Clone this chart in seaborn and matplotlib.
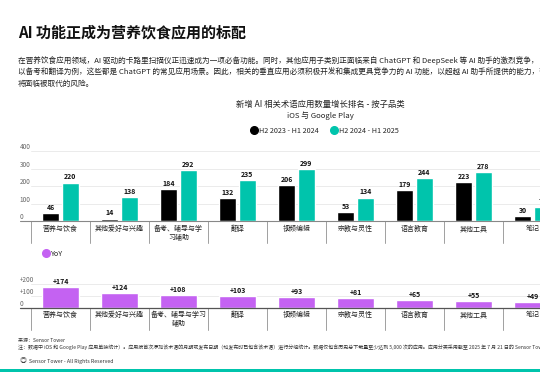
import matplotlib
matplotlib.use("Agg")
import matplotlib.pyplot as plt
import seaborn as sns
import pandas as pd
from matplotlib.lines import Line2D
from matplotlib.patches import Rectangle

sns.set_theme(style="white")
plt.rcParams['font.family'] = ['Noto Sans CJK SC', 'DejaVu Sans']

categories = ['营养与饮食', '其他爱好与兴趣', '备考、辅导与学习辅助', '翻译', '视频编辑',
              '宗教与灵性', '语言教育', '其他工具', '笔记']
top_labels = ['营养与饮食', '其他爱好与兴趣', '备考、辅导与学\n习辅助', '翻译', '视频编辑',
              '宗教与灵性', '语言教育', '其他工具', '笔记']
bottom_labels = ['营养与饮食', '其他爱好与兴趣', '备考、辅导与学习\n辅助', '翻译', '视频编辑',
                 '宗教与灵性', '语言教育', '其他工具', '笔记']
series_names = ['H2 2023 - H1 2024', 'H2 2024 - H1 2025']
h2_2023 = [46, 14, 184, 132, 206, 53, 179, 223, 30]
h2_2024 = [220, 138, 292, 235, 299, 134, 244, 278, 79]
yoy = [174, 124, 108, 103, 93, 81, 65, 55, 49]
top_ticks = [0, 100, 200, 300, 400]
bottom_ticks = [0, 100, 200]
bottom_tick_labels = ['0', '+100', '+200']

BLACK = '#000000'
TEAL = '#00c4ac'
PURPLE = '#c462f2'
GRID = '#ebebeb'
SEP = '#a0a0a0'

W, H = 540, 372
fig = plt.figure(figsize=(5.4, 3.72), dpi=100)
fig.patch.set_facecolor('white')

def fx(px):
    return px / W

def fy(py):
    return 1 - py / H

# ---- text header ----
fig.text(fx(18), fy(32), 'AI 功能正成为营养饮食应用的标配', fontsize=10.8, fontweight='bold',
         va='center', ha='left', color='#111111')
body = ['在营养饮食应用领域，AI 驱动的卡路里扫描仪正迅速成为一项必备功能。同时，其他应用子类别正面临来自 ChatGPT 和 DeepSeek 等 AI 助手的激烈竞争，',
        '以备考和翻译为例，这些都是 ChatGPT 的常见应用场景。因此，相关的垂直应用必须积极开发和集成更具竞争力的 AI 功能，以超越 AI 助手所提供的能力，否则',
        '将面临被取代的风险。']
for i, line in enumerate(body):
    fig.text(fx(18), fy(61 + i * 11.7), line, fontsize=5.5, va='center', ha='left', color='#222222')

fig.text(fx(320), fy(104), '新增 AI 相关术语应用数量增长排名 - 按子品类', fontsize=6, ha='center', va='center', color='#222222')
fig.text(fx(320), fy(116), 'iOS 与 Google Play', fontsize=5.6, ha='center', va='center', color='#222222')

# ---- top chart ----
ax_left, ax_right = 31, 562
ax1 = fig.add_axes([fx(ax_left), fy(221), (ax_right - ax_left) / W, 70 / H])
ax1.patch.set_alpha(0)
df_top = pd.DataFrame({
    'cat': categories * 2,
    'series': [series_names[0]] * len(categories) + [series_names[1]] * len(categories),
    'val': h2_2023 + h2_2024,
})
sns.barplot(data=df_top, x='cat', y='val', hue='series', order=categories, hue_order=series_names,
            palette=[BLACK, TEAL], width=0.66, gap=0.12, ax=ax1, legend=False, saturation=1)
for c in ax1.containers:
    ax1.bar_label(c, fontsize=5, fontweight='bold', padding=1.5, color='#111111')
ax1.set_xlim(-0.5, 8.5)
ax1.set_ylim(0, 400)
ax1.set_yticks(top_ticks)
ax1.set_yticklabels([str(t) for t in top_ticks])
for lab in ax1.get_yticklabels():
    lab.set_horizontalalignment('left')
    lab.set_verticalalignment('bottom')
ax1.tick_params(axis='y', length=0, pad=8, labelsize=4.6, labelcolor='#666666')
ax1.set_xticks([])
ax1.set_xlabel('')
ax1.set_ylabel('')
for s in ax1.spines.values():
    s.set_visible(False)
for t in top_ticks[1:]:
    ax1.axhline(t, color=GRID, lw=0.7, zorder=0)
ax1.axhline(0, xmin=-11 / (ax_right - ax_left), xmax=1, color='#888888', lw=0.8, clip_on=False, zorder=3)
for i in range(len(categories) + 1):
    ax1.plot([i - 0.5, i - 0.5], [0, -22 / 70 * 400], color=SEP, lw=0.7, clip_on=False)
for i, lab in enumerate(top_labels):
    ax1.text(i, -4 / 70 * 400, lab, fontsize=5, ha='center', va='top', color='#222222',
             linespacing=1.2, clip_on=False)

leg_handles = [Line2D([], [], marker='o', ls='', color=BLACK, markersize=5.5),
               Line2D([], [], marker='o', ls='', color=TEAL, markersize=5.5)]
fig.legend(leg_handles, series_names, loc='center', bbox_to_anchor=(fx(325), fy(131)), ncol=2,
           frameon=False, fontsize=5.2, handletextpad=0.2, columnspacing=1.6, handlelength=1.0)

# ---- bottom chart ----
ax2 = fig.add_axes([fx(ax_left), fy(308), (ax_right - ax_left) / W, 24 / H])
ax2.patch.set_alpha(0)
df_bot = pd.DataFrame({'cat': categories, 'val': yoy})
sns.barplot(data=df_bot, x='cat', y='val', order=categories, color=PURPLE, width=0.63, ax=ax2, saturation=1)
ax2.bar_label(ax2.containers[0], labels=[f'+{v}' for v in yoy], fontsize=5, fontweight='bold',
              padding=1.5, color='#111111')
ax2.set_xlim(-0.5, 8.5)
ax2.set_ylim(0, 200)
ax2.set_yticks(bottom_ticks)
ax2.set_yticklabels(bottom_tick_labels)
for lab in ax2.get_yticklabels():
    lab.set_horizontalalignment('left')
    lab.set_verticalalignment('bottom')
ax2.tick_params(axis='y', length=0, pad=8, labelsize=4.6, labelcolor='#666666')
ax2.set_xticks([])
ax2.set_xlabel('')
ax2.set_ylabel('')
for s in ax2.spines.values():
    s.set_visible(False)
for t in bottom_ticks[1:]:
    ax2.axhline(t, color=GRID, lw=0.7, zorder=0)
ax2.axhline(0, xmin=-11 / (ax_right - ax_left), xmax=1, color='#555555', lw=0.9, clip_on=False, zorder=3)
for i in range(len(categories) + 1):
    ax2.plot([i - 0.5, i - 0.5], [0, -22 / 24 * 200], color=SEP, lw=0.7, clip_on=False)
for i, lab in enumerate(bottom_labels):
    ax2.text(i, -3 / 24 * 200, lab, fontsize=5, ha='center', va='top', color='#222222',
             linespacing=1.2, clip_on=False)

fig.legend([Line2D([], [], marker='o', ls='', color=PURPLE, markersize=5.5)], ['YoY'],
           loc='center left', bbox_to_anchor=(fx(36), fy(254)), frameon=False, fontsize=5.2,
           handletextpad=0.2, handlelength=1.0)

# ---- footer ----
fig.text(fx(18), fy(340), '来源：Sensor Tower', fontsize=3.6, ha='left', va='center', color='#333333')
fig.text(fx(18), fy(347), '注：数据中 iOS 和 Google Play 应用单独统计）。应用按首次添加该术语的月期或发布日期（如发布时已包含该术语）进行分组统计。数据仅包含历史总下载量至少达到 5,000 次的应用。应用分类采用截至 2025 年 7 月 21 日的 Sensor Tower 分类。',
         fontsize=3.6, ha='left', va='center', color='#333333')
fig.text(fx(20), fy(361), '◎', fontsize=5, ha='left', va='center', color='#444444')
fig.text(fx(29), fy(361), 'Sensor Tower - All Rights Reserved', fontsize=3.8, ha='left', va='center', color='#333333')
fig.add_artist(Rectangle((0, 0), 1, 3 / H, transform=fig.transFigure, color=TEAL, lw=0))

fig.savefig('out.png', dpi=100, facecolor='white')
